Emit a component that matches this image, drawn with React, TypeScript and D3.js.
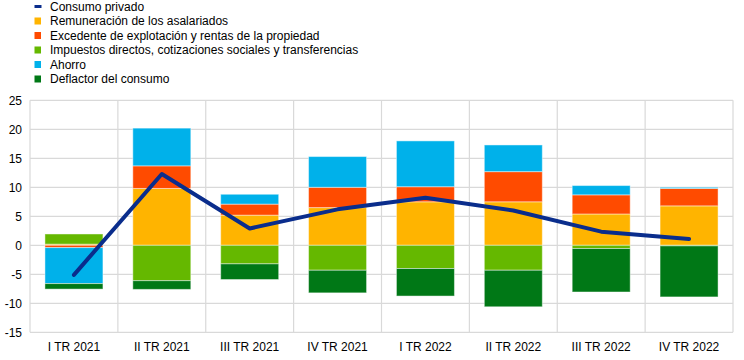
import React from "react";
import * as d3 from "d3";

const categories = ["I TR 2021", "II TR 2021", "III TR 2021", "IV TR 2021", "I TR 2022", "II TR 2022", "III TR 2022", "IV TR 2022"];
const remuneracion = [0.2, 9.8, 5.2, 6.5, 7.5, 7.5, 5.4, 6.8];
const excedente = [-0.4, 3.9, 1.9, 3.5, 2.6, 5.2, 3.3, 3.0];
const impuestos = [1.75, -6.1, -3.2, -4.3, -4.0, -4.3, -0.55, -0.1];
const ahorro = [-6.2, 6.5, 1.7, 5.3, 7.9, 4.6, 1.6, 0.2];
const deflactor = [-0.95, -1.5, -2.7, -3.9, -4.75, -6.3, -7.5, -8.8];
const consumo = [-5.1, 12.3, 2.9, 6.2, 8.2, 6.0, 2.35, 1.1];
const yTicks = [-15, -10, -5, 0, 5, 10, 15, 20, 25];

const seriesNames = [
  "Remuneración de los asalariados",
  "Excedente de explotación y rentas de la propiedad",
  "Impuestos directos, cotizaciones sociales y transferencias",
  "Ahorro",
  "Deflactor del consumo",
];
const seriesValues = [remuneracion, excedente, impuestos, ahorro, deflactor];
const colors = ["#FFB400", "#FF4B00", "#65B800", "#00B1EA", "#007816"];
const lineName = "Consumo privado";
const lineColor = "#0A2D8C";

export default function App() {
  const W = 744, H = 360;
  const left = 30, right = 733, top = 100.3, bottom = 332.3;
  const x = d3.scaleBand<string>().domain(categories).range([left, right]).paddingInner(0.34).paddingOuter(0.17);
  const xb = d3.scaleBand<string>().domain(categories).range([left, right]);
  const y = d3.scaleLinear().domain([-15, 25]).range([bottom, top]);

  const table = categories.map((c, i) => {
    const o: any = { cat: c };
    seriesNames.forEach((n, k) => (o[n] = seriesValues[k][i]));
    return o;
  });
  const stack = d3.stack<any>().keys(seriesNames).offset(d3.stackOffsetDiverging)(table);

  const line = d3
    .line<number>()
    .x((_, i) => (xb(categories[i]) as number) + xb.bandwidth() / 2)
    .y((d) => y(d))
    .curve(d3.curveLinear);

  const font = "'Liberation Sans', Arial, sans-serif";
  const legendItems = [{ name: lineName, color: lineColor, isLine: true }].concat(
    seriesNames.map((n, k) => ({ name: n, color: colors[k], isLine: false }))
  );

  return (
    <svg width={W} height={H} style={{ position: "fixed", left: 0, top: 0 }} fontFamily={font}>
      <rect width={W} height={H} fill="#fff" />
      {/* grid */}
      {yTicks.map((t) => (
        <line key={"g" + t} x1={left} x2={right} y1={y(t)} y2={y(t)} stroke="#D9D9D9" strokeWidth={1.2} />
      ))}
      {categories.map((c, i) => (
        <line key={"v" + i} x1={xb(c) as number} x2={xb(c) as number} y1={top} y2={bottom} stroke="#D9D9D9" strokeWidth={1.2} />
      ))}
      <line x1={right} x2={right} y1={top} y2={bottom} stroke="#D9D9D9" strokeWidth={1.2} />
      {/* bars */}
      {stack.map((s, k) => (
        <g key={s.key} fill={colors[k]}>
          {s.map((d, i) => {
            const y0 = y(d[0]), y1 = y(d[1]);
            const h = Math.abs(y0 - y1);
            if (h < 0.01) return null;
            return (
              <rect
                key={i}
                x={x(categories[i]) as number}
                width={x.bandwidth()}
                y={Math.min(y0, y1)}
                height={h}
                stroke="#ffffff"
                strokeOpacity={0.45}
                strokeWidth={1}
              />
            );
          })}
        </g>
      ))}
      {/* line */}
      <path d={line(consumo) as string} fill="none" stroke={lineColor} strokeWidth={4} strokeLinejoin="round" strokeLinecap="round" />
      {/* y axis labels */}
      {yTicks.map((t) => (
        <text key={"t" + t} x={22} y={y(t)} dy="0.35em" textAnchor="end" fontSize={12} fill="#000">
          {t}
        </text>
      ))}
      {categories.map((c) => (
        <text key={"c" + c} x={(xb(c) as number) + xb.bandwidth() / 2} y={351} textAnchor="middle" fontSize={12} fill="#000">
          {c}
        </text>
      ))}
      {/* legend */}
      {legendItems.map((it, i) => {
        const cy = 6.5 + i * 14.5;
        return (
          <g key={it.name}>
            {it.isLine ? (
              <line x1={34.5} x2={41.5} y1={cy} y2={cy} stroke={it.color} strokeWidth={3} />
            ) : (
              <rect x={34.5} y={cy - 3.5} width={6.5} height={7} fill={it.color} />
            )}
            <text x={50} y={cy} dy="0.35em" fontSize={12} fill="#000">
              {it.name}
            </text>
          </g>
        );
      })}
    </svg>
  );
}
